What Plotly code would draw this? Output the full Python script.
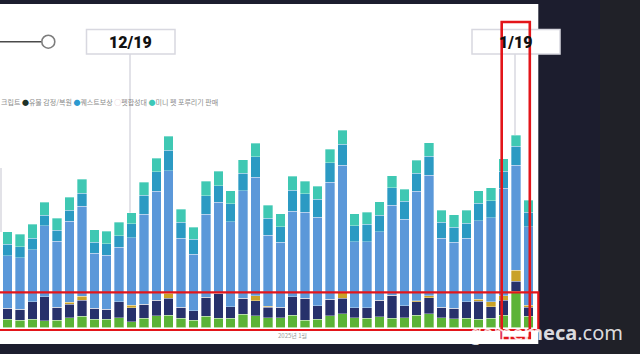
import plotly.graph_objects as go
import pandas as pd

# ---- data (daily, 2024-12-09 .. 2025-01-20) ----
dates = pd.date_range("2024-12-09", "2025-01-20", freq="D").strftime("%Y-%m-%d").tolist()

series_names = ["스크립트", "유물 감정/복원", "펫합성대", "기본 획득", "퀘스트보상", "미니 펫 포루리기 판매"]

green = [8.2, 7.5, 8.5, 6.8, 7.5, 9.8, 11.5, 8.5, 8.2, 9.8, 5.8, 9.2, 11.8, 12.5, 9.2, 7.5, 11.5, 9.2, 9.2, 13.5,
         11.8, 9.8, 9.8, 12.5, 7.5, 8.5, 11.8, 13.8, 9.8, 9.2, 10.8, 9.2, 9.8, 12.5, 13.8, 9.8, 8.8, 9.2, 8.2, 9.2,
         12.5, 36.5, 11.5]
navy = [11, 10.7, 17.3, 24, 12.7, 13.7, 15.7, 10.7, 10, 16, 14, 14.3, 15.7, 16.7, 11.3, 9.3, 19, 25, 11.6, 15.7,
        15, 10.7, 10.4, 18.3, 21.7, 13.3, 16.7, 15.4, 10, 10.6, 16.7, 23.3, 12, 13.3, 16, 10.7, 10.7, 16.6, 18.3, 11.6,
        15, 10, 9]
gold = [0, 0, 0, 0, 0, 1.7, 4, 0, 0, 0, 2.4, 0, 0, 5, 0, 0, 0, 0, 0, 0,
        5, 1, 0, 0, 0, 0, 0, 6.6, 0, 0, 0, 0, 0, 1, 2, 0, 0, 0, 1.7, 5,
        4.3, 11, 2]
light_blue = [52.6, 51.6, 52, 71, 66.3, 81.3, 90.3, 55, 54.3, 54.7, 67.6, 89.7, 109, 122.6, 68.7, 56.4, 83, 91, 85, 107.6,
              118.4, 71, 65, 85.7, 86, 88.4, 116.7, 126.7, 66, 66, 68.3, 90, 86.4, 109.7, 120.7, 68.7, 65.7, 63.4, 78.6, 84,
              107.4, 105, 78.3]
teal_blue = [11.4, 11, 11.4, 10.7, 10.7, 11, 12.7, 11.3, 11.3, 11.3, 14, 19.3, 19.3, 20.7, 16.3, 15, 18.3, 16.6, 18, 17.7,
             20.6, 16.7, 15.6, 20.7, 18.6, 18.3, 19.6, 21, 16, 17.4, 16.7, 17.3, 18.3, 17.7, 19, 16, 15.3, 15, 17.7, 17,
             17.3, 18.7, 14.4]
teal = [12.6, 12.7, 14, 13, 12.3, 12.7, 14.3, 12.5, 12.7, 13.7, 11, 12.7, 13.4, 14, 13, 12, 14.7, 14.7, 13, 13.3,
        13.4, 13, 13, 14.3, 12.7, 13, 13.4, 14, 12, 12, 13.3, 12, 12, 13, 13.3, 12, 12.3, 13, 12.3, 13,
        12.3, 11.3, 12.3]

marker_dates = ["2024-12-19", "2025-01-19"]
marker_labels = ["12/19", "1/19"]
month_tick = "2025-01-01"
month_label = "2025년 1월"

colors = ["#5cb337", "#27316b", "#c9a228", "#5b98d9", "#2b9ac3", "#3fc8b3"]
stack = [green, navy, gold, light_blue, teal_blue, teal]

# ---- geometry helpers (pixel -> paper) ----
W, H = 640, 354
def fx(px):
    return px / W
def fy(py):
    return 1 - py / H

DAY_MS = 86400000
fig = go.Figure()
for name, vals, col in zip(series_names, stack, colors):
    fig.add_trace(go.Bar(
        x=dates, y=vals, name=name, width=0.766 * DAY_MS,
        marker=dict(color=col, line=dict(color="rgba(255,255,255,0.55)", width=0.6)),
        showlegend=False,
    ))

x_start = pd.Timestamp(dates[0]) - pd.Timedelta(days=0.605)
x_end = pd.Timestamp(dates[-1]) + pd.Timedelta(days=0.78)

shapes = [
    # white slide panel
    dict(type="rect", xref="paper", yref="paper", x0=fx(-2), x1=fx(538.3), y0=fy(344), y1=fy(4),
         fillcolor="white", line=dict(width=0), layer="below"),
    # slightly different tone at far right of background
    dict(type="rect", xref="paper", yref="paper", x0=fx(600), x1=fx(640), y0=0, y1=1,
         fillcolor="#202128", line=dict(width=0), layer="below"),
    # faint marker line at left edge
    dict(type="line", xref="paper", yref="paper", x0=fx(1), x1=fx(1), y0=fy(168), y1=fy(232),
         line=dict(color="#cfcfd8", width=1.2), layer="below"),
    # connector lines from date boxes
    dict(type="line", xref="paper", yref="paper", x0=fx(130), x1=fx(130), y0=fy(54), y1=fy(300),
         line=dict(color="#d3d3dc", width=1.3), layer="below"),
    dict(type="line", xref="paper", yref="paper", x0=fx(515), x1=fx(515), y0=fy(54), y1=fy(200),
         line=dict(color="#d3d3dc", width=1.3), layer="below"),
    # slider
    dict(type="line", xref="paper", yref="paper", x0=fx(-2), x1=fx(42), y0=fy(41.7), y1=fy(41.7),
         line=dict(color="#4a4a4a", width=1.5)),
    dict(type="circle", xref="paper", yref="paper", x0=fx(41.8), x1=fx(54.8), y0=fy(48.2), y1=fy(35.2),
         fillcolor="white", line=dict(color="#7d7d7d", width=1.6)),
    # date boxes
    dict(type="rect", xref="paper", yref="paper", x0=fx(86.5), x1=fx(175), y0=fy(54), y1=fy(29.5),
         fillcolor="white", line=dict(color="#d8d8e0", width=1.5)),
    dict(type="rect", xref="paper", yref="paper", x0=fx(472), x1=fx(560), y0=fy(54), y1=fy(29.5),
         fillcolor="white", line=dict(color="#d8d8e0", width=1.5)),
    # red highlight rectangles
    dict(type="rect", xref="paper", yref="paper", x0=fx(-5), x1=fx(538.3), y0=fy(330), y1=fy(292.3),
         line=dict(color="#e3151a", width=2.2)),
    dict(type="rect", xref="paper", yref="paper", x0=fx(501.7), x1=fx(529.8), y0=fy(338), y1=fy(22),
         line=dict(color="#e3151a", width=2.6)),
]

legend_html = ('크립트 <span style="color:#1e3228">●</span>유물 감정/복원 '
               '<span style="color:#2c9ad0">●</span>퀘스트보상 '
               '<span style="color:#e6c4cc">○</span>펫합성대 '
               '<span style="color:#3cc8b8">●</span>미니 펫 포루리기 판매')

annotations = [
    dict(text=marker_labels[0], xref="paper", yref="paper", x=fx(130.5), y=fy(42),
         xanchor="center", yanchor="middle", showarrow=False,
         font=dict(family="Roboto", size=16, color="#111111", weight=900)),
    dict(text=marker_labels[1], xref="paper", yref="paper", x=fx(515.5), y=fy(42),
         xanchor="center", yanchor="middle", showarrow=False,
         font=dict(family="Roboto", size=16, color="#111111", weight=900)),
    dict(text=legend_html, xref="paper", yref="paper", x=fx(-1), y=fy(102.5),
         xanchor="left", yanchor="middle", showarrow=False,
         font=dict(family="Noto Sans CJK KR", size=7, color="#8c8c8c")),
    dict(text=month_label, xref="x", yref="paper", x=month_tick, y=fy(335),
         xanchor="center", yanchor="middle", showarrow=False,
         font=dict(family="Noto Sans CJK KR", size=6, color="#9a9a9a")),
    dict(text="game<b>meca</b>.com", xref="paper", yref="paper", x=fx(546), y=fy(332),
         xanchor="center", yanchor="middle", showarrow=False,
         font=dict(family="Noto Sans", size=20, color="rgba(255,255,255,0.85)")),
]

fig.update_layout(
    width=W, height=H,
    margin=dict(l=0, r=0, t=0, b=0),
    barmode="stack",
    paper_bgcolor="#1c1d2e",
    plot_bgcolor="rgba(0,0,0,0)",
    xaxis=dict(type="date", domain=[0, fx(538)], range=[x_start, x_end], visible=False),
    yaxis=dict(domain=[26.5 / H, 1], range=[0, 327.5], visible=False),
    shapes=shapes,
    annotations=annotations,
)

fig.write_html("out.html")
